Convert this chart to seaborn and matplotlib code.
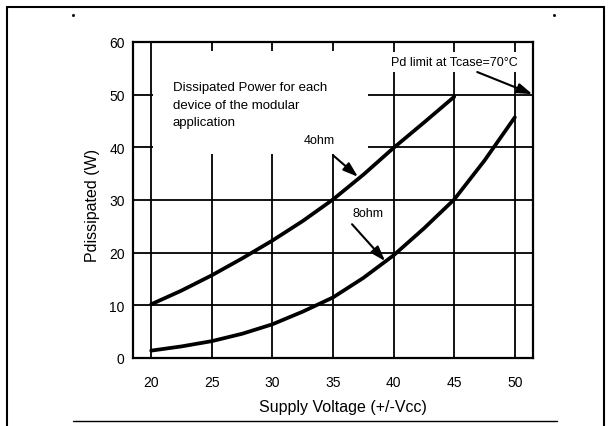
import matplotlib
matplotlib.use("Agg")
import matplotlib.pyplot as plt
from matplotlib.lines import Line2D
from matplotlib.patches import Rectangle
import seaborn as sns
import pandas as pd

# ---- data ----
vcc_4ohm = [20, 22.5, 25, 27.5, 30, 32.5, 35, 37.5, 40, 42.5, 45]
pd_4ohm = [10.2, 12.8, 15.7, 18.9, 22.3, 26.0, 30.1, 34.8, 39.9, 44.7, 49.6]
vcc_8ohm = [20, 22.5, 25, 27.5, 30, 32.5, 35, 37.5, 40, 42.5, 45, 47.5, 50]
pd_8ohm = [1.4, 2.2, 3.2, 4.6, 6.4, 8.8, 11.5, 15.2, 19.5, 24.6, 30.1, 37.5, 45.7]
x_ticks = [20, 25, 30, 35, 40, 45, 50]
y_ticks = [0, 10, 20, 30, 40, 50, 60]

df = pd.concat([
    pd.DataFrame({"Vcc": vcc_4ohm, "Pd": pd_4ohm, "load": "4ohm"}),
    pd.DataFrame({"Vcc": vcc_8ohm, "Pd": pd_8ohm, "load": "8ohm"}),
])

sns.set_style("white")
plt.rcParams["font.family"] = ["Liberation Sans", "DejaVu Sans"]
plt.rcParams["text.color"] = "black"
plt.rcParams["axes.labelcolor"] = "black"
plt.rcParams["xtick.color"] = "black"
plt.rcParams["ytick.color"] = "black"

fig = plt.figure(figsize=(6.12, 4.27), dpi=100)
ax = fig.add_axes([133 / 612, 1 - 359 / 427, 400 / 612, 316 / 427])

XMIN, XMAX = 18.5, 51.5
ax.set_xlim(XMIN, XMAX)
ax.set_ylim(0, 60)

grid_kw = dict(color="black", lw=1.3, zorder=1)
for x in x_ticks:
    ax.axvline(x, **grid_kw)
for y in y_ticks[1:-1]:
    ax.axhline(y, **grid_kw)

# white area behind the description text (gridlines interrupted there)
ax.add_patch(Rectangle((20.12, 38.7), 37.9 - 20.12, 58.3 - 38.7,
                       facecolor="white", edgecolor="none", zorder=1.5))

sns.lineplot(data=df, x="Vcc", y="Pd", hue="load", palette=["black", "black"],
             linewidth=2.7, legend=False, ax=ax, zorder=3, sort=False)

ax.set_xticks(x_ticks)
ax.set_yticks(y_ticks)
ax.tick_params(axis="both", length=0, labelsize=10, colors="black")
ax.tick_params(axis="x", pad=12)
ax.tick_params(axis="y", pad=6)
for s in ax.spines.values():
    s.set_color("black")
    s.set_linewidth(1.6)
    s.set_zorder(4)

ax.set_xlabel("Supply Voltage (+/-Vcc)", fontsize=11.5, color="black")
ax.set_ylabel("Pdissipated (W)", fontsize=11.5, color="black")
ax.xaxis.set_label_coords(0.525, -0.152)
ax.yaxis.set_label_coords(-0.10, 0.487)
ax.xaxis.label.set_va("center")
ax.yaxis.label.set_va("center")

ax.text(21.8, 52.6, "Dissipated Power for each\ndevice of the modular\napplication",
        fontsize=9.5, ha="left", va="top", linespacing=1.62, zorder=5, color="black")

arrow_kw = dict(arrowstyle="-|>,head_length=0.9,head_width=0.3", color="black",
                lw=1.5, shrinkA=0, shrinkB=0)
ax.annotate("", xy=(37.06, 34.4), xytext=(35.0, 38.5), arrowprops=arrow_kw, zorder=5)
ax.text(33.9, 41.4, "4ohm", fontsize=9, ha="center", va="center", zorder=5, color="black")

ax.annotate("", xy=(39.3, 18.4), xytext=(36.57, 25.4), arrowprops=arrow_kw, zorder=5)
ax.text(37.9, 27.6, "8ohm", fontsize=9, ha="center", va="center", zorder=5, color="black")

ax.text(45.0, 56.2, "Pd limit at Tcase=70°C", fontsize=9, ha="center", va="center",
        zorder=5, color="black",
        bbox=dict(facecolor="white", edgecolor="none", boxstyle="square,pad=0.35"))
ax.annotate("", xy=(51.45, 50.1), xytext=(46.9, 54.3), arrowprops=arrow_kw, zorder=6)

# page frame
W, H = 612, 427
def fl(x0, y0, x1, y1, lw):
    fig.add_artist(Line2D([x0 / W, x1 / W], [1 - y0 / H, 1 - y1 / H],
                          color="black", lw=lw, transform=fig.transFigure))
fl(7, 8, 604, 8, 1.5)
fl(7, 8, 7, 427, 1.5)
fl(604, 8, 604, 427, 1.5)
fl(73, 422, 557, 422, 1.0)
fig.add_artist(Line2D([73 / W], [1 - 16 / H], marker="s", ms=1, color="black",
                      transform=fig.transFigure, lw=0))
fig.add_artist(Line2D([554 / W], [1 - 16 / H], marker="s", ms=1, color="black",
                      transform=fig.transFigure, lw=0))

fig.savefig("out.png", dpi=100)
